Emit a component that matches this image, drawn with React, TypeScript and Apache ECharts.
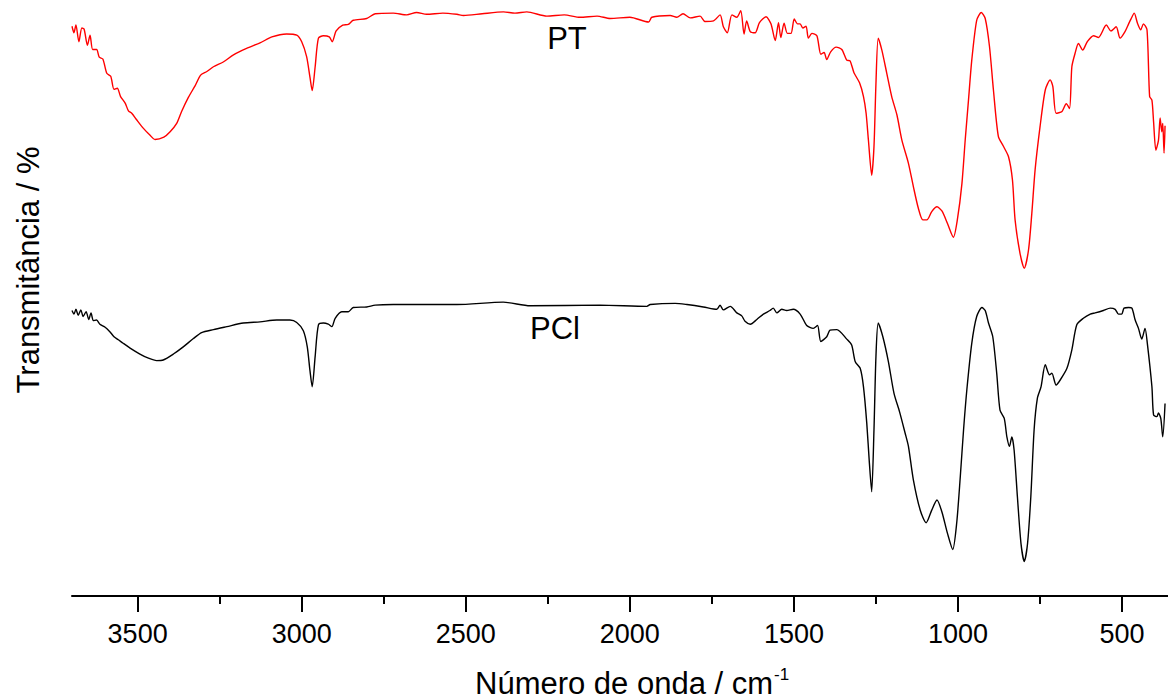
import React, { useEffect, useRef } from "react";
import * as echarts from "echarts";

// PT spectrum (red)
const ptWavenumber = [
  3700, 3694, 3688, 3679, 3670, 3663, 3653, 3645, 3637, 3625, 3617, 3606, 3594, 3582, 3572, 3562, 3552, 3538, 3528, 3518,
  3503, 3483, 3462, 3447, 3420, 3401, 3381, 3366, 3345, 3325, 3308, 3289, 3269, 3239, 3208, 3168, 3127, 3091, 3046, 3015,
  3000, 2985, 2975, 2968, 2959, 2949, 2934, 2916, 2907, 2895, 2875, 2858, 2843, 2802, 2776, 2721, 2680, 2650, 2619, 2570,
  2527, 2507, 2450, 2385, 2350, 2314, 2253, 2200, 2152, 2100, 2060, 2000, 1943, 1933, 1877, 1857, 1838, 1816, 1786, 1771,
  1745, 1725, 1715, 1703, 1689, 1674, 1662, 1652, 1644, 1633, 1618, 1605, 1585, 1570, 1557, 1547, 1540, 1530, 1520, 1509,
  1499, 1489, 1481, 1473, 1463, 1456, 1445, 1430, 1418, 1408, 1400, 1388, 1371, 1354, 1339, 1329, 1317, 1300, 1288, 1280,
  1273, 1263, 1256, 1250, 1243, 1232, 1217, 1202, 1186, 1171, 1151, 1136, 1121, 1107, 1095, 1080, 1064, 1049, 1032, 1014,
  1002, 988, 978, 968, 958, 943, 929, 917, 904, 892, 877, 862, 846, 834, 826, 811, 798, 785, 775, 765,
  750, 734, 719, 711, 701, 683, 670, 660, 653, 643, 633, 620, 606, 587, 572, 548, 534, 518, 506, 491,
  480, 473, 463, 453, 443, 435, 424, 416, 409, 404, 397, 389, 384, 379, 376, 372, 369,
];
const ptTransmittance = [
  95.6, 94.5, 95.8, 93.0, 95.3, 95.1, 92.4, 94.1, 91.7, 91.7, 90.4, 90.1, 87.7, 87.2, 85.0, 85.2, 83.8, 82.7, 81.4, 81.0,
  79.9, 78.5, 77.3, 76.6, 77.0, 77.9, 79.3, 81.3, 83.7, 85.6, 87.4, 88.0, 88.8, 89.6, 90.8, 91.9, 92.8, 93.8, 94.3, 94.1,
  93.0, 90.5, 87.1, 84.8, 88.8, 93.6, 94.0, 93.8, 93.0, 94.8, 95.8, 95.9, 96.6, 96.9, 97.7, 97.8, 97.5, 97.9, 97.6, 97.8,
  97.6, 97.4, 97.7, 98.0, 97.8, 98.0, 97.3, 97.5, 97.1, 97.3, 96.9, 97.1, 96.3, 97.1, 97.4, 97.1, 97.7, 97.0, 97.3, 96.4,
  96.5, 97.5, 95.5, 94.5, 97.5, 97.1, 98.2, 94.3, 96.5, 94.7, 94.5, 96.2, 97.2, 96.0, 93.2, 96.2, 93.7, 96.1, 94.4, 94.4,
  96.8, 96.0, 96.0, 95.3, 95.6, 93.6, 94.4, 94.0, 90.9, 91.2, 90.0, 91.3, 92.1, 91.7, 89.9, 89.8, 87.8, 86.1, 83.8, 81.0,
  76.5, 70.6, 75.4, 86.0, 93.6, 91.6, 87.7, 83.8, 80.7, 76.5, 72.6, 68.7, 65.1, 63.1, 63.1, 64.5, 65.3, 64.6, 62.5, 60.2,
  63.1, 69.2, 76.5, 83.2, 89.9, 96.6, 97.9, 96.9, 92.2, 84.9, 77.1, 75.5, 73.7, 69.8, 63.1, 57.5, 55.0, 58.1, 64.2, 71.5,
  78.7, 84.9, 86.6, 85.5, 81.0, 81.3, 82.6, 81.8, 88.8, 91.1, 92.7, 91.6, 93.0, 94.0, 93.7, 95.8, 94.8, 95.5, 93.6, 94.7,
  96.0, 96.8, 97.8, 96.1, 95.0, 96.0, 95.0, 83.8, 83.2, 79.6, 74.8, 76.5, 80.2, 77.9, 79.3, 74.3, 78.9,
];

// PCl spectrum (black)
const pclWavenumber = [
  3700, 3694, 3688, 3681, 3673, 3666, 3657, 3649, 3642, 3635, 3625, 3615, 3599, 3584, 3572, 3559, 3544, 3523, 3493, 3467,
  3442, 3422, 3391, 3361, 3330, 3305, 3269, 3228, 3178, 3127, 3076, 3036, 3015, 2995, 2983, 2975, 2968, 2959, 2949, 2934,
  2919, 2908, 2898, 2878, 2858, 2843, 2802, 2776, 2721, 2619, 2527, 2386, 2304, 2091, 1948, 1938, 1862, 1826, 1776, 1735,
  1725, 1715, 1694, 1674, 1659, 1649, 1633, 1613, 1593, 1573, 1563, 1552, 1537, 1522, 1502, 1481, 1461, 1441, 1428, 1418,
  1400, 1390, 1369, 1339, 1324, 1313, 1298, 1288, 1278, 1270, 1263, 1256, 1250, 1243, 1229, 1212, 1195, 1178, 1161, 1151,
  1136, 1115, 1097, 1080, 1064, 1049, 1032, 1016, 1004, 993, 983, 973, 958, 943, 927, 917, 907, 894, 882, 872,
  859, 851, 843, 836, 829, 819, 808, 798, 788, 778, 768, 758, 747, 734, 721, 714, 701, 689, 668, 653,
  638, 618, 597, 582, 557, 536, 521, 511, 501, 494, 480, 470, 460, 450, 440, 430, 423, 409, 404, 394,
  389, 382, 376, 369,
];
const pclTransmittance = [
  47.9, 47.3, 48.1, 47.1, 48.0, 46.9, 47.7, 46.4, 47.5, 46.2, 46.3, 45.6, 45.1, 44.3, 43.5, 43.0, 42.4, 41.6, 40.6, 39.9,
  39.5, 39.6, 40.6, 41.8, 43.2, 44.2, 44.7, 45.2, 45.8, 46.0, 46.3, 46.3, 45.9, 44.5, 41.8, 37.9, 35.1, 40.2, 45.5, 45.8,
  45.6, 45.2, 46.6, 47.7, 47.7, 48.4, 48.5, 48.8, 48.9, 48.9, 48.9, 49.3, 48.7, 48.8, 48.6, 48.9, 49.1, 48.9, 48.5, 48.1,
  48.8, 48.0, 48.6, 47.5, 47.0, 46.1, 45.6, 46.4, 47.3, 47.9, 48.3, 47.5, 48.1, 47.9, 48.1, 47.3, 45.4, 44.9, 45.4, 42.7,
  43.5, 44.6, 44.7, 43.1, 42.1, 39.3, 38.2, 35.1, 29.0, 22.3, 17.5, 27.9, 40.2, 45.8, 43.5, 39.3, 34.0, 30.9, 27.3, 25.1,
  19.5, 14.4, 12.3, 14.4, 16.1, 14.1, 10.5, 7.8, 12.2, 20.0, 27.9, 34.6, 42.4, 46.9, 48.4, 47.9, 45.8, 43.5, 37.4, 31.2,
  29.8, 26.7, 25.1, 26.7, 24.5, 16.7, 8.8, 5.8, 8.8, 16.7, 27.9, 33.2, 35.1, 38.8, 37.1, 37.4, 35.4, 36.2, 38.2, 41.3,
  45.5, 46.6, 47.3, 47.5, 47.9, 48.3, 48.1, 47.3, 47.3, 48.3, 48.4, 48.3, 46.3, 44.9, 43.1, 44.9, 42.4, 35.1, 30.4, 30.1,
  30.7, 29.8, 26.7, 32.3,
];

const majorTicks = [500, 1000, 1500, 2000, 2500, 3000, 3500];
const minorTicks = [750, 1250, 1750, 2250, 2750, 3250];
const seriesNames = ["PT", "PCl"];
const axisTitleX = "Número de onda / cm";
const axisTitleXSup = "-1";
const axisTitleY = "Transmitância / %";

const FONT = '"Liberation Sans", Arial, Helvetica, sans-serif';

function zip(a: number[], b: number[]) {
  return a.map((v, i) => [v, b[i]]);
}

export default function App() {
  const ref = useRef<HTMLDivElement>(null);
  useEffect(() => {
    document.body.style.margin = "0";
    if (!ref.current) return;
    const chart = echarts.init(ref.current, undefined, { renderer: "svg" });
    const xCommon = {
      type: "value" as const,
      min: 360,
      max: 3700,
      inverse: true,
      position: "bottom" as const,
      offset: 0,
      splitLine: { show: false },
    };
    chart.setOption({
      animation: false,
      backgroundColor: "#ffffff",
      grid: { left: 72, right: 0, top: 0, bottom: 104, containLabel: false },
      xAxis: [
        {
          ...xCommon,
          axisLine: { show: true, lineStyle: { color: "#000", width: 2 } },
          axisTick: { show: true, length: 16, lineStyle: { color: "#000", width: 2 }, customValues: majorTicks },
          axisLabel: {
            show: true,
            customValues: majorTicks,
            formatter: (v: number) => String(v),
            margin: 24,
            color: "#000",
            fontSize: 27,
            fontFamily: FONT,
          },
        },
        {
          ...xCommon,
          axisLine: { show: false },
          axisTick: { show: true, length: 8, lineStyle: { color: "#000", width: 2 }, customValues: minorTicks },
          axisLabel: { show: false },
        },
      ],
      yAxis: { type: "value", min: 0, max: 100, show: false },
      series: [
        {
          name: seriesNames[0],
          type: "line",
          xAxisIndex: 0,
          data: zip(ptWavenumber, ptTransmittance),
          showSymbol: false,
          symbol: "none",
          smooth: 0.25,
          lineStyle: { color: "#ff0000", width: 1.4 },
          itemStyle: { color: "#ff0000" },
        },
        {
          name: seriesNames[1],
          type: "line",
          xAxisIndex: 0,
          data: zip(pclWavenumber, pclTransmittance),
          showSymbol: false,
          symbol: "none",
          smooth: 0.25,
          lineStyle: { color: "#000000", width: 1.4 },
          itemStyle: { color: "#000000" },
        },
      ],
      graphic: [
        {
          type: "text",
          x: 28,
          y: 270,
          rotation: Math.PI / 2,
          style: { text: axisTitleY, font: `31px ${FONT}`, fill: "#000", align: "center", verticalAlign: "middle" },
        },
        {
          type: "text",
          x: 475,
          y: 683,
          style: { text: axisTitleX, font: `31px ${FONT}`, fill: "#000", align: "left", verticalAlign: "middle" },
        },
        {
          type: "text",
          x: 774,
          y: 674,
          style: { text: axisTitleXSup, font: `17px ${FONT}`, fill: "#000", align: "left", verticalAlign: "middle" },
        },
        {
          type: "text",
          x: 567,
          y: 38,
          style: { text: seriesNames[0], font: `31px ${FONT}`, fill: "#000", align: "center", verticalAlign: "middle" },
        },
        {
          type: "text",
          x: 555,
          y: 328,
          style: { text: seriesNames[1], font: `31px ${FONT}`, fill: "#000", align: "center", verticalAlign: "middle" },
        },
      ],
    });
    return () => chart.dispose();
  }, []);
  return (
    <div
      ref={ref}
      style={{ width: 1168, height: 700, position: "fixed", left: 0, top: 0, background: "#fff" }}
    />
  );
}
